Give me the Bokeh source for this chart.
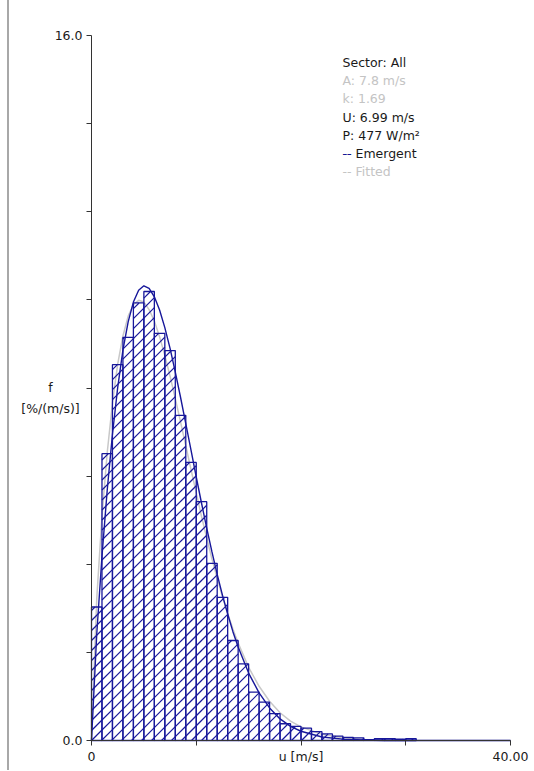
import math
from bokeh.plotting import figure
from bokeh.models import Range1d, Label, FixedTicker
from bokeh.embed import file_html
from bokeh.resources import INLINE

# ---- data ----
bin_start = [0, 1, 2, 3, 4, 5, 6, 7, 8, 9, 10, 11, 12, 13, 14, 15,
             16, 17, 18, 19, 20, 21, 22, 23, 24, 25, 26, 27, 28, 29, 30]
bin_freq = [3.03, 6.51, 8.53, 9.15, 9.93, 10.19, 9.24, 8.85, 7.38, 6.31,
            5.42, 4.02, 3.25, 2.27, 1.74, 1.10, 0.87, 0.61, 0.38, 0.32,
            0.28, 0.20, 0.15, 0.10, 0.07, 0.06, 0.02, 0.04, 0.04, 0.03, 0.04]

curve_u = [0, 0.5, 1, 1.5, 2, 2.5, 3, 3.5, 4, 4.5, 5, 5.5, 6, 6.5, 7, 7.5,
           8, 8.5, 9, 9.5, 10, 10.5, 11, 11.5, 12, 12.5, 13, 13.5, 14,
           15, 16, 17, 18, 19, 20, 22, 24, 26, 28, 30, 35, 40]
emergent_f = [0, 2.41, 4.18, 5.68, 6.95, 8.01, 8.86, 9.50, 9.95, 10.22, 10.32,
              10.26, 10.07, 9.77, 9.37, 8.90, 8.36, 7.79, 7.19, 6.59, 5.98,
              5.39, 4.82, 4.28, 3.77, 3.30, 2.87, 2.47, 2.12,
              1.53, 1.08, 0.74, 0.49, 0.32, 0.21, 0.08, 0.03, 0.01, 0, 0, 0, 0]
fitted_f = [0, 3.22, 5.09, 6.53, 7.66, 8.54, 9.18, 9.63, 9.89, 9.99, 9.95,
            9.78, 9.52, 9.16, 8.74, 8.27, 7.76, 7.23, 6.69, 6.15, 5.62,
            5.09, 4.60, 4.12, 3.68, 3.26, 2.88, 2.53, 2.21,
            1.66, 1.23, 0.89, 0.63, 0.44, 0.31, 0.14, 0.06, 0.02, 0.01, 0, 0, 0]

x_min, x_max = 0, 40
y_min, y_max = 0, 16
x_ticks = [0, 10, 20, 30, 40]
y_ticks = [0, 2, 4, 6, 8, 10, 12, 14, 16]
x_tick_text = {0: "0", 10: "", 20: "u [m/s]", 30: "", 40: "40.00"}
y_tick_text = {0: "0.0", 2: "", 4: "", 6: "", 8: "", 10: "", 12: "", 14: "", 16: "16.0"}

info_lines = ["Sector: All", "A: 7.8 m/s", "k: 1.69", "U: 6.99 m/s",
              "P: 477 W/m\u00b2", "-- Emergent", "-- Fitted"]
info_colors = ["#1a1a1a", "#c4c4c4", "#c4c4c4", "#1a1a1a", "#1a1a1a", "#1a1a1a", "#c4c4c4"]

# ---- layout (pixels) ----
W, H = 524, 770          # figure size (placed after a 7px margin + 2px border)
AX_L, AX_R = 82, 501     # x pixel of u=0 and u=40 inside the figure
AX_T, AX_B = 35, 740     # y pixel of f=16 and f=0 inside the figure
XS = (AX_R - AX_L) / (x_max - x_min)
YS = (AX_B - AX_T) / (y_max - y_min)

NAVY = "#17179a"
GREY = "#c8c8c8"
FONT = "DejaVu Sans"
FS = "12.5px"

p = figure(width=W, height=H, output_backend="svg", toolbar_location=None,
           x_range=Range1d(x_min - AX_L / XS, x_max + (W - AX_R) / XS),
           y_range=Range1d(y_min - (H - AX_B) / YS, y_max + AX_T / YS),
           min_border_left=0, min_border_right=0,
           min_border_top=0, min_border_bottom=0,
           styles={"margin-left": "7px", "border-left": "2px solid #a8a8a8"})
p.outline_line_color = None
p.grid.visible = False
p.background_fill_color = "white"
p.border_fill_color = "white"

# fitted curve (behind bars)
p.line(curve_u, fitted_f, line_color=GREY, line_width=1.5)

# 45-degree hatch inside each bar (10 px spacing), clipped to the bar
m = XS / YS                 # data slope giving 45 degrees on screen
dc = 10.0 / YS              # vertical spacing in data units
hx0, hy0, hx1, hy1 = [], [], [], []
k_lo = math.floor(-m * (bin_start[-1] + 1) / dc) - 1
k_hi = math.ceil(max(bin_freq) / dc) + 1
for a, h in zip(bin_start, bin_freq):
    for k in range(k_lo, k_hi + 1):
        c = k * dc
        xl = max(a, (0 - c) / m)
        xr = min(a + 1, (h - c) / m)
        if xr > xl + 1e-9:
            hx0.append(xl); hy0.append(m * xl + c)
            hx1.append(xr); hy1.append(m * xr + c)
p.segment(hx0, hy0, hx1, hy1, line_color=NAVY, line_width=1.2)

# histogram bars
bin_end = [b + 1 for b in bin_start]
p.quad(left=bin_start, right=bin_end, bottom=0, top=bin_freq,
       fill_color=None, line_color=NAVY, line_width=1.3)

# emergent curve
p.line(curve_u, emergent_f, line_color=NAVY, line_width=1.4)

# axes fixed at the origin (inside the frame so nothing is clipped)
for ax in (p.xaxis[0], p.yaxis[0]):
    ax.axis_line_color = "#333333"
    ax.major_tick_line_color = "#333333"
    ax.minor_tick_line_color = None
    ax.major_tick_out = 5
    ax.major_tick_in = 0
    ax.major_label_text_font = FONT
    ax.major_label_text_font_size = FS
    ax.major_label_text_color = "#1a1a1a"
    ax.fixed_location = 0
p.xaxis.ticker = FixedTicker(ticks=x_ticks)
p.yaxis.ticker = FixedTicker(ticks=y_ticks)
p.xaxis.major_label_overrides = x_tick_text
p.yaxis.major_label_overrides = y_tick_text
p.xaxis.major_label_standoff = 3
p.yaxis.major_label_standoff = 4
p.xaxis.bounds = (x_min, x_max)
p.yaxis.bounds = (y_min, y_max)

def add_label(text, x, y, xo, yo, color="#1a1a1a", align="left"):
    p.add_layout(Label(x=x, y=y, x_offset=xo, y_offset=yo, text=text,
                       text_font=FONT, text_font_size=FS, text_color=color,
                       text_align=align, text_baseline="alphabetic"))

# y axis title
add_label("f", 0, 0, -41, 353, align="center")
add_label("[%/(m/s)]", 0, 0, -41, 332, align="center")

# info block
for i, (t, c) in enumerate(zip(info_lines, info_colors)):
    add_label(t, 0, 16, 251, -27 - 18.2 * i, color=c)
# coloured dash for Emergent
add_label("--", 0, 16, 251, -27 - 18.2 * 5, color=NAVY)

open("out.html", "w").write(file_html(p, INLINE))
